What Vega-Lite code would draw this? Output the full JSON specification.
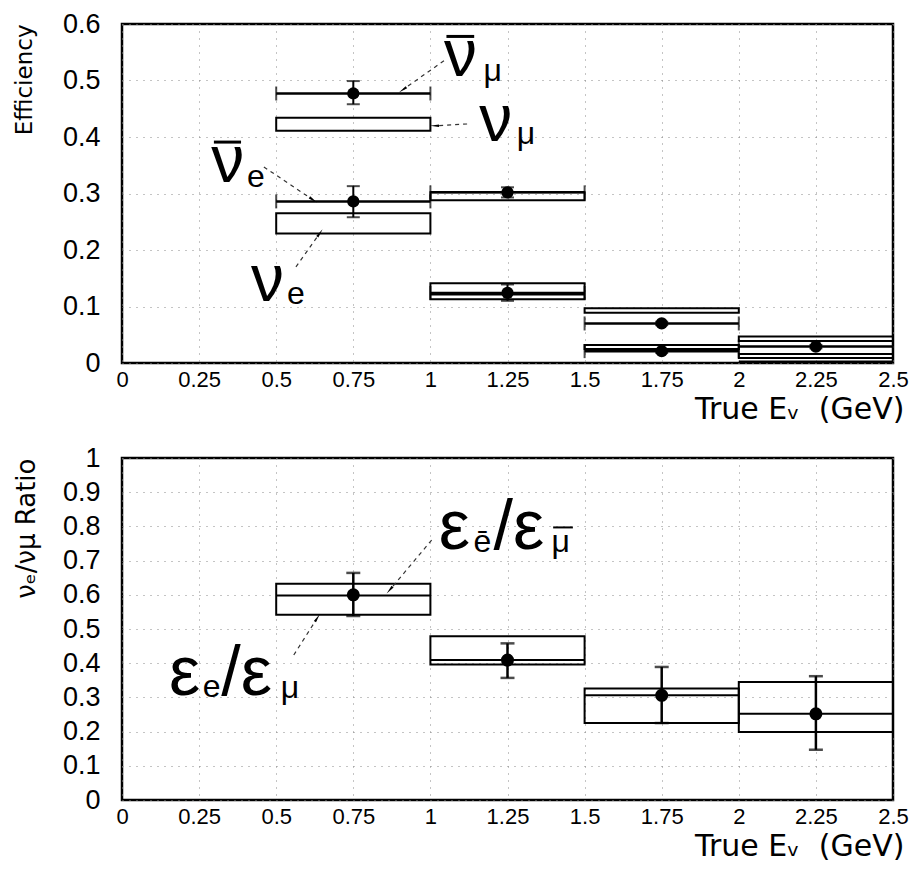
{
  "$schema": "https://vega.github.io/schema/vega-lite/v6.json",
  "background": "white",
  "padding": {"left": 12, "top": 8, "right": 4, "bottom": 4},
  "spacing": 16,
  "datasets": {
    "effBoxes": [
      {"xlo": 0.5, "xhi": 1, "ylo": 0.411, "yhi": 0.434},
      {"xlo": 0.5, "xhi": 1, "ylo": 0.229, "yhi": 0.265},
      {"xlo": 1, "xhi": 1.5, "ylo": 0.288, "yhi": 0.302},
      {"xlo": 1, "xhi": 1.5, "ylo": 0.113, "yhi": 0.141},
      {"xlo": 1.5, "xhi": 2, "ylo": 0.089, "yhi": 0.097},
      {"xlo": 1.5, "xhi": 2, "ylo": 0.025, "yhi": 0.032},
      {"xlo": 2, "xhi": 2.5, "ylo": 0.039, "yhi": 0.047},
      {"xlo": 2, "xhi": 2.5, "ylo": 0.009, "yhi": 0.016}
    ],
    "effLines": [
      {"xlo": 1, "xhi": 1.5, "y": 0.121},
      {"xlo": 2, "xhi": 2.5, "y": 0.003}
    ],
    "effPoints": [
      {"x": 0.75, "xlo": 0.5, "xhi": 1, "y": 0.477, "ylo": 0.458, "yhi": 0.499},
      {"x": 0.75, "xlo": 0.5, "xhi": 1, "y": 0.286, "ylo": 0.258, "yhi": 0.313},
      {"x": 1.25, "xlo": 1, "xhi": 1.5, "y": 0.302, "ylo": 0.293, "yhi": 0.311},
      {"x": 1.25, "xlo": 1, "xhi": 1.5, "y": 0.124, "ylo": 0.110, "yhi": 0.139},
      {"x": 1.75, "xlo": 1.5, "xhi": 2, "y": 0.070, "ylo": 0.067, "yhi": 0.073},
      {"x": 1.75, "xlo": 1.5, "xhi": 2, "y": 0.021, "ylo": 0.018, "yhi": 0.024},
      {"x": 2.25, "xlo": 2, "xhi": 2.5, "y": 0.029, "ylo": 0.026, "yhi": 0.032}
    ],
    "effArrows": [
      {"id": "a1", "x": 1.044, "y": 0.535, "x2": 0.914, "y2": 0.485},
      {"id": "a2", "x": 1.119, "y": 0.423, "x2": 1.018, "y2": 0.420},
      {"id": "a3", "x": 0.460, "y": 0.347, "x2": 0.616, "y2": 0.290},
      {"id": "a4", "x": 0.564, "y": 0.170, "x2": 0.639, "y2": 0.228}
    ],
    "effBars": [
      {"x": 1.052, "x2": 1.142, "y": 0.578},
      {"x": 0.298, "x2": 0.386, "y": 0.391}
    ],
    "effBig": [
      {"x": 1.044, "y": 0.508, "t": "ν"},
      {"x": 1.158, "y": 0.393, "t": "ν"},
      {"x": 0.289, "y": 0.320, "t": "ν"},
      {"x": 0.418, "y": 0.110, "t": "ν"}
    ],
    "effSub": [
      {"x": 1.172, "y": 0.499, "t": "μ"},
      {"x": 1.280, "y": 0.388, "t": "μ"},
      {"x": 0.405, "y": 0.312, "t": "e"},
      {"x": 0.535, "y": 0.104, "t": "e"}
    ],
    "ratioBoxes": [
      {"xlo": 0.5, "xhi": 1, "ylo": 0.542, "yhi": 0.632, "mid": 0.598},
      {"xlo": 1, "xhi": 1.5, "ylo": 0.396, "yhi": 0.479, "mid": 0.409},
      {"xlo": 1.5, "xhi": 2, "ylo": 0.225, "yhi": 0.326, "mid": 0.306},
      {"xlo": 2, "xhi": 2.5, "ylo": 0.199, "yhi": 0.345, "mid": 0.252}
    ],
    "ratioPoints": [
      {"x": 0.75, "y": 0.600, "ylo": 0.538, "yhi": 0.664},
      {"x": 1.25, "y": 0.409, "ylo": 0.357, "yhi": 0.458},
      {"x": 1.75, "y": 0.306, "ylo": 0.225, "yhi": 0.389},
      {"x": 2.25, "y": 0.252, "ylo": 0.147, "yhi": 0.362}
    ],
    "ratioArrows": [
      {"id": "a5", "x": 1.004, "y": 0.760, "x2": 0.871, "y2": 0.617},
      {"id": "a6", "x": 0.557, "y": 0.424, "x2": 0.631, "y2": 0.529}
    ],
    "ratioBars": [
      {"x": 1.398, "x2": 1.462, "y": 0.797}
    ],
    "ratioBig": [
      {"x": 1.027, "y": 0.734, "t": "ε"},
      {"x": 1.205, "y": 0.734, "t": "/ε"},
      {"x": 0.152, "y": 0.307, "t": "ε"},
      {"x": 0.322, "y": 0.307, "t": "/ε"}
    ],
    "ratioSub": [
      {"x": 1.140, "y": 0.725, "t": "ē"},
      {"x": 1.393, "y": 0.725, "t": "μ"},
      {"x": 0.262, "y": 0.301, "t": "e"},
      {"x": 0.515, "y": 0.298, "t": "μ"}
    ]
  },
  "config": {
    "view": {"stroke": "black", "strokeWidth": 2.5},
    "axis": {
      "grid": true,
      "gridDash": [1, 6],
      "gridColor": "#888",
      "gridWidth": 1,
      "ticks": false,
      "domain": false,
      "labelFont": "Liberation Sans",
      "labelColor": "black",
      "labelFlush": false,
      "labelOverlap": false,
      "titleFont": "DejaVu Sans",
      "titleFontWeight": "normal",
      "titleColor": "black"
    },
    "axisY": {"labelOverlap": false}
  },
  "vconcat": [
    {
      "width": 771,
      "height": 339,
      "layer": [
        {
          "data": {"name": "effBoxes"},
          "mark": {"type": "rect", "fill": "white", "fillOpacity": 0, "stroke": "black", "strokeWidth": 2},
          "encoding": {
            "x": {"field": "xlo", "type": "quantitative", "scale": {"domain": [0, 2.5], "nice": false},
              "axis": {"values": [0, 0.25, 0.5, 0.75, 1, 1.25, 1.5, 1.75, 2, 2.25, 2.5], "format": ".3~g", "labelFontSize": 22, "labelPadding": 6, "title": "True\u00a0Eᵥ\u00a0\u00a0(GeV)", "titleFontSize": 30, "titleAnchor": "end", "titleAlign": "right", "titleX": 782, "titleY": 55, "titleBaseline": "alphabetic"}},
            "x2": {"field": "xhi"},
            "y": {"field": "ylo", "type": "quantitative", "scale": {"domain": [0, 0.6], "nice": false},
              "axis": {"values": [0, 0.1, 0.2, 0.3, 0.4, 0.5, 0.6], "format": ".2~g", "labelFontSize": 27, "labelPadding": 22, "labelOverlap": false, "title": "Efficiency", "titleFontSize": 23, "titleAnchor": "end", "titlePadding": 26}},
            "y2": {"field": "yhi"}
          }
        },
        {
          "data": {"name": "effLines"},
          "mark": {"type": "rule", "color": "black", "strokeWidth": 1.5},
          "encoding": {
            "x": {"field": "xlo", "type": "quantitative",
              "axis": {"values": [0, 0.25, 0.5, 0.75, 1, 1.25, 1.5, 1.75, 2, 2.25, 2.5], "format": ".3~g", "labelFontSize": 22, "labelPadding": 6, "title": "True\u00a0Eᵥ\u00a0\u00a0(GeV)", "titleFontSize": 30, "titleAnchor": "end", "titleAlign": "right", "titleX": 782, "titleY": 55, "titleBaseline": "alphabetic"}},
            "x2": {"field": "xhi"},
            "y": {"field": "y", "type": "quantitative",
              "axis": {"values": [0, 0.1, 0.2, 0.3, 0.4, 0.5, 0.6], "format": ".2~g", "labelFontSize": 27, "labelPadding": 22, "labelOverlap": false, "title": "Efficiency", "titleFontSize": 23, "titleAnchor": "end", "titlePadding": 26}}
          }
        },
        {
          "data": {"name": "effPoints"},
          "mark": {"type": "rule", "color": "black", "strokeWidth": 2.5},
          "encoding": {
            "x": {"field": "xlo", "type": "quantitative",
              "axis": {"values": [0, 0.25, 0.5, 0.75, 1, 1.25, 1.5, 1.75, 2, 2.25, 2.5], "format": ".3~g", "labelFontSize": 22, "labelPadding": 6, "title": "True\u00a0Eᵥ\u00a0\u00a0(GeV)", "titleFontSize": 30, "titleAnchor": "end", "titleAlign": "right", "titleX": 782, "titleY": 55, "titleBaseline": "alphabetic"}},
            "x2": {"field": "xhi"},
            "y": {"field": "y", "type": "quantitative",
              "axis": {"values": [0, 0.1, 0.2, 0.3, 0.4, 0.5, 0.6], "format": ".2~g", "labelFontSize": 27, "labelPadding": 22, "labelOverlap": false, "title": "Efficiency", "titleFontSize": 23, "titleAnchor": "end", "titlePadding": 26}}
          }
        },
        {
          "data": {"name": "effPoints"},
          "mark": {"type": "tick", "orient": "vertical", "color": "black", "size": 14, "thickness": 2},
          "encoding": {
            "x": {"field": "xlo", "type": "quantitative",
              "axis": {"values": [0, 0.25, 0.5, 0.75, 1, 1.25, 1.5, 1.75, 2, 2.25, 2.5], "format": ".3~g", "labelFontSize": 22, "labelPadding": 6, "title": "True\u00a0Eᵥ\u00a0\u00a0(GeV)", "titleFontSize": 30, "titleAnchor": "end", "titleAlign": "right", "titleX": 782, "titleY": 55, "titleBaseline": "alphabetic"}},
            "y": {"field": "y", "type": "quantitative",
              "axis": {"values": [0, 0.1, 0.2, 0.3, 0.4, 0.5, 0.6], "format": ".2~g", "labelFontSize": 27, "labelPadding": 22, "labelOverlap": false, "title": "Efficiency", "titleFontSize": 23, "titleAnchor": "end", "titlePadding": 26}}
          }
        },
        {
          "data": {"name": "effPoints"},
          "mark": {"type": "tick", "orient": "vertical", "color": "black", "size": 14, "thickness": 2},
          "encoding": {
            "x": {"field": "xhi", "type": "quantitative",
              "axis": {"values": [0, 0.25, 0.5, 0.75, 1, 1.25, 1.5, 1.75, 2, 2.25, 2.5], "format": ".3~g", "labelFontSize": 22, "labelPadding": 6, "title": "True\u00a0Eᵥ\u00a0\u00a0(GeV)", "titleFontSize": 30, "titleAnchor": "end", "titleAlign": "right", "titleX": 782, "titleY": 55, "titleBaseline": "alphabetic"}},
            "y": {"field": "y", "type": "quantitative",
              "axis": {"values": [0, 0.1, 0.2, 0.3, 0.4, 0.5, 0.6], "format": ".2~g", "labelFontSize": 27, "labelPadding": 22, "labelOverlap": false, "title": "Efficiency", "titleFontSize": 23, "titleAnchor": "end", "titlePadding": 26}}
          }
        },
        {
          "data": {"name": "effPoints"},
          "mark": {"type": "rule", "color": "black", "strokeWidth": 2},
          "encoding": {
            "x": {"field": "x", "type": "quantitative",
              "axis": {"values": [0, 0.25, 0.5, 0.75, 1, 1.25, 1.5, 1.75, 2, 2.25, 2.5], "format": ".3~g", "labelFontSize": 22, "labelPadding": 6, "title": "True\u00a0Eᵥ\u00a0\u00a0(GeV)", "titleFontSize": 30, "titleAnchor": "end", "titleAlign": "right", "titleX": 782, "titleY": 55, "titleBaseline": "alphabetic"}},
            "y": {"field": "ylo", "type": "quantitative",
              "axis": {"values": [0, 0.1, 0.2, 0.3, 0.4, 0.5, 0.6], "format": ".2~g", "labelFontSize": 27, "labelPadding": 22, "labelOverlap": false, "title": "Efficiency", "titleFontSize": 23, "titleAnchor": "end", "titlePadding": 26}},
            "y2": {"field": "yhi"}
          }
        },
        {
          "data": {"name": "effPoints"},
          "mark": {"type": "tick", "orient": "horizontal", "color": "black", "size": 13, "thickness": 2},
          "encoding": {
            "x": {"field": "x", "type": "quantitative",
              "axis": {"values": [0, 0.25, 0.5, 0.75, 1, 1.25, 1.5, 1.75, 2, 2.25, 2.5], "format": ".3~g", "labelFontSize": 22, "labelPadding": 6, "title": "True\u00a0Eᵥ\u00a0\u00a0(GeV)", "titleFontSize": 30, "titleAnchor": "end", "titleAlign": "right", "titleX": 782, "titleY": 55, "titleBaseline": "alphabetic"}},
            "y": {"field": "ylo", "type": "quantitative",
              "axis": {"values": [0, 0.1, 0.2, 0.3, 0.4, 0.5, 0.6], "format": ".2~g", "labelFontSize": 27, "labelPadding": 22, "labelOverlap": false, "title": "Efficiency", "titleFontSize": 23, "titleAnchor": "end", "titlePadding": 26}}
          }
        },
        {
          "data": {"name": "effPoints"},
          "mark": {"type": "tick", "orient": "horizontal", "color": "black", "size": 13, "thickness": 2},
          "encoding": {
            "x": {"field": "x", "type": "quantitative",
              "axis": {"values": [0, 0.25, 0.5, 0.75, 1, 1.25, 1.5, 1.75, 2, 2.25, 2.5], "format": ".3~g", "labelFontSize": 22, "labelPadding": 6, "title": "True\u00a0Eᵥ\u00a0\u00a0(GeV)", "titleFontSize": 30, "titleAnchor": "end", "titleAlign": "right", "titleX": 782, "titleY": 55, "titleBaseline": "alphabetic"}},
            "y": {"field": "yhi", "type": "quantitative",
              "axis": {"values": [0, 0.1, 0.2, 0.3, 0.4, 0.5, 0.6], "format": ".2~g", "labelFontSize": 27, "labelPadding": 22, "labelOverlap": false, "title": "Efficiency", "titleFontSize": 23, "titleAnchor": "end", "titlePadding": 26}}
          }
        },
        {
          "data": {"name": "effPoints"},
          "mark": {"type": "point", "filled": true, "color": "black", "opacity": 1, "size": 150},
          "encoding": {
            "x": {"field": "x", "type": "quantitative",
              "axis": {"values": [0, 0.25, 0.5, 0.75, 1, 1.25, 1.5, 1.75, 2, 2.25, 2.5], "format": ".3~g", "labelFontSize": 22, "labelPadding": 6, "title": "True\u00a0Eᵥ\u00a0\u00a0(GeV)", "titleFontSize": 30, "titleAnchor": "end", "titleAlign": "right", "titleX": 782, "titleY": 55, "titleBaseline": "alphabetic"}},
            "y": {"field": "y", "type": "quantitative",
              "axis": {"values": [0, 0.1, 0.2, 0.3, 0.4, 0.5, 0.6], "format": ".2~g", "labelFontSize": 27, "labelPadding": 22, "labelOverlap": false, "title": "Efficiency", "titleFontSize": 23, "titleAnchor": "end", "titlePadding": 26}}
          }
        },
        {
          "data": {"name": "effArrows"},
          "mark": {"type": "rule", "color": "#333", "strokeWidth": 1.2, "strokeDash": [4, 4]},
          "encoding": {
            "x": {"field": "x", "type": "quantitative",
              "axis": {"values": [0, 0.25, 0.5, 0.75, 1, 1.25, 1.5, 1.75, 2, 2.25, 2.5], "format": ".3~g", "labelFontSize": 22, "labelPadding": 6, "title": "True\u00a0Eᵥ\u00a0\u00a0(GeV)", "titleFontSize": 30, "titleAnchor": "end", "titleAlign": "right", "titleX": 782, "titleY": 55, "titleBaseline": "alphabetic"}},
            "y": {"field": "y", "type": "quantitative",
              "axis": {"values": [0, 0.1, 0.2, 0.3, 0.4, 0.5, 0.6], "format": ".2~g", "labelFontSize": 27, "labelPadding": 22, "labelOverlap": false, "title": "Efficiency", "titleFontSize": 23, "titleAnchor": "end", "titlePadding": 26}},
            "x2": {"field": "x2"},
            "y2": {"field": "y2"}
          }
        },
        {
          "data": {"name": "effArrows"},
          "transform": [{"filter": "datum.id == 'a1'"}],
          "mark": {"type": "point", "shape": "wedge", "filled": true, "color": "black", "opacity": 1, "size": 110, "angle": 235},
          "encoding": {
            "x": {"field": "x2", "type": "quantitative",
              "axis": {"values": [0, 0.25, 0.5, 0.75, 1, 1.25, 1.5, 1.75, 2, 2.25, 2.5], "format": ".3~g", "labelFontSize": 22, "labelPadding": 6, "title": "True\u00a0Eᵥ\u00a0\u00a0(GeV)", "titleFontSize": 30, "titleAnchor": "end", "titleAlign": "right", "titleX": 782, "titleY": 55, "titleBaseline": "alphabetic"}},
            "y": {"field": "y2", "type": "quantitative",
              "axis": {"values": [0, 0.1, 0.2, 0.3, 0.4, 0.5, 0.6], "format": ".2~g", "labelFontSize": 27, "labelPadding": 22, "labelOverlap": false, "title": "Efficiency", "titleFontSize": 23, "titleAnchor": "end", "titlePadding": 26}}
          }
        },
        {
          "data": {"name": "effArrows"},
          "transform": [{"filter": "datum.id == 'a2'"}],
          "mark": {"type": "point", "shape": "wedge", "filled": true, "color": "black", "opacity": 1, "size": 110, "angle": 270},
          "encoding": {
            "x": {"field": "x2", "type": "quantitative",
              "axis": {"values": [0, 0.25, 0.5, 0.75, 1, 1.25, 1.5, 1.75, 2, 2.25, 2.5], "format": ".3~g", "labelFontSize": 22, "labelPadding": 6, "title": "True\u00a0Eᵥ\u00a0\u00a0(GeV)", "titleFontSize": 30, "titleAnchor": "end", "titleAlign": "right", "titleX": 782, "titleY": 55, "titleBaseline": "alphabetic"}},
            "y": {"field": "y2", "type": "quantitative",
              "axis": {"values": [0, 0.1, 0.2, 0.3, 0.4, 0.5, 0.6], "format": ".2~g", "labelFontSize": 27, "labelPadding": 22, "labelOverlap": false, "title": "Efficiency", "titleFontSize": 23, "titleAnchor": "end", "titlePadding": 26}}
          }
        },
        {
          "data": {"name": "effArrows"},
          "transform": [{"filter": "datum.id == 'a3'"}],
          "mark": {"type": "point", "shape": "wedge", "filled": true, "color": "black", "opacity": 1, "size": 110, "angle": 124},
          "encoding": {
            "x": {"field": "x2", "type": "quantitative",
              "axis": {"values": [0, 0.25, 0.5, 0.75, 1, 1.25, 1.5, 1.75, 2, 2.25, 2.5], "format": ".3~g", "labelFontSize": 22, "labelPadding": 6, "title": "True\u00a0Eᵥ\u00a0\u00a0(GeV)", "titleFontSize": 30, "titleAnchor": "end", "titleAlign": "right", "titleX": 782, "titleY": 55, "titleBaseline": "alphabetic"}},
            "y": {"field": "y2", "type": "quantitative",
              "axis": {"values": [0, 0.1, 0.2, 0.3, 0.4, 0.5, 0.6], "format": ".2~g", "labelFontSize": 27, "labelPadding": 22, "labelOverlap": false, "title": "Efficiency", "titleFontSize": 23, "titleAnchor": "end", "titlePadding": 26}}
          }
        },
        {
          "data": {"name": "effArrows"},
          "transform": [{"filter": "datum.id == 'a4'"}],
          "mark": {"type": "point", "shape": "wedge", "filled": true, "color": "black", "opacity": 1, "size": 110, "angle": 35},
          "encoding": {
            "x": {"field": "x2", "type": "quantitative",
              "axis": {"values": [0, 0.25, 0.5, 0.75, 1, 1.25, 1.5, 1.75, 2, 2.25, 2.5], "format": ".3~g", "labelFontSize": 22, "labelPadding": 6, "title": "True\u00a0Eᵥ\u00a0\u00a0(GeV)", "titleFontSize": 30, "titleAnchor": "end", "titleAlign": "right", "titleX": 782, "titleY": 55, "titleBaseline": "alphabetic"}},
            "y": {"field": "y2", "type": "quantitative",
              "axis": {"values": [0, 0.1, 0.2, 0.3, 0.4, 0.5, 0.6], "format": ".2~g", "labelFontSize": 27, "labelPadding": 22, "labelOverlap": false, "title": "Efficiency", "titleFontSize": 23, "titleAnchor": "end", "titlePadding": 26}}
          }
        },
        {
          "data": {"name": "effBars"},
          "mark": {"type": "rule", "color": "black", "strokeWidth": 3},
          "encoding": {
            "x": {"field": "x", "type": "quantitative",
              "axis": {"values": [0, 0.25, 0.5, 0.75, 1, 1.25, 1.5, 1.75, 2, 2.25, 2.5], "format": ".3~g", "labelFontSize": 22, "labelPadding": 6, "title": "True\u00a0Eᵥ\u00a0\u00a0(GeV)", "titleFontSize": 30, "titleAnchor": "end", "titleAlign": "right", "titleX": 782, "titleY": 55, "titleBaseline": "alphabetic"}},
            "x2": {"field": "x2"},
            "y": {"field": "y", "type": "quantitative",
              "axis": {"values": [0, 0.1, 0.2, 0.3, 0.4, 0.5, 0.6], "format": ".2~g", "labelFontSize": 27, "labelPadding": 22, "labelOverlap": false, "title": "Efficiency", "titleFontSize": 23, "titleAnchor": "end", "titlePadding": 26}}
          }
        },
        {
          "data": {"name": "effBig"},
          "mark": {"type": "text", "font": "Liberation Sans", "fontSize": 66, "align": "left", "baseline": "alphabetic", "color": "black"},
          "encoding": {
            "x": {"field": "x", "type": "quantitative",
              "axis": {"values": [0, 0.25, 0.5, 0.75, 1, 1.25, 1.5, 1.75, 2, 2.25, 2.5], "format": ".3~g", "labelFontSize": 22, "labelPadding": 6, "title": "True\u00a0Eᵥ\u00a0\u00a0(GeV)", "titleFontSize": 30, "titleAnchor": "end", "titleAlign": "right", "titleX": 782, "titleY": 55, "titleBaseline": "alphabetic"}},
            "y": {"field": "y", "type": "quantitative",
              "axis": {"values": [0, 0.1, 0.2, 0.3, 0.4, 0.5, 0.6], "format": ".2~g", "labelFontSize": 27, "labelPadding": 22, "labelOverlap": false, "title": "Efficiency", "titleFontSize": 23, "titleAnchor": "end", "titlePadding": 26}},
            "text": {"field": "t"}
          }
        },
        {
          "data": {"name": "effSub"},
          "mark": {"type": "text", "font": "Liberation Sans", "fontSize": 32, "align": "left", "baseline": "alphabetic", "color": "black"},
          "encoding": {
            "x": {"field": "x", "type": "quantitative",
              "axis": {"values": [0, 0.25, 0.5, 0.75, 1, 1.25, 1.5, 1.75, 2, 2.25, 2.5], "format": ".3~g", "labelFontSize": 22, "labelPadding": 6, "title": "True\u00a0Eᵥ\u00a0\u00a0(GeV)", "titleFontSize": 30, "titleAnchor": "end", "titleAlign": "right", "titleX": 782, "titleY": 55, "titleBaseline": "alphabetic"}},
            "y": {"field": "y", "type": "quantitative",
              "axis": {"values": [0, 0.1, 0.2, 0.3, 0.4, 0.5, 0.6], "format": ".2~g", "labelFontSize": 27, "labelPadding": 22, "labelOverlap": false, "title": "Efficiency", "titleFontSize": 23, "titleAnchor": "end", "titlePadding": 26}},
            "text": {"field": "t"}
          }
        }
      ]
    },
    {
      "width": 771,
      "height": 342,
      "layer": [
        {
          "data": {"name": "ratioBoxes"},
          "mark": {"type": "rect", "fill": "white", "fillOpacity": 0, "stroke": "black", "strokeWidth": 2},
          "encoding": {
            "x": {"field": "xlo", "type": "quantitative", "scale": {"domain": [0, 2.5], "nice": false},
              "axis": {"values": [0, 0.25, 0.5, 0.75, 1, 1.25, 1.5, 1.75, 2, 2.25, 2.5], "format": ".3~g", "labelFontSize": 22, "labelPadding": 6, "title": "True\u00a0Eᵥ\u00a0\u00a0(GeV)", "titleFontSize": 30, "titleAnchor": "end", "titleAlign": "right", "titleX": 782, "titleY": 55, "titleBaseline": "alphabetic"}},
            "x2": {"field": "xhi"},
            "y": {"field": "ylo", "type": "quantitative", "scale": {"domain": [0, 1], "nice": false},
              "axis": {"values": [0, 0.1, 0.2, 0.3, 0.4, 0.5, 0.6, 0.7, 0.8, 0.9, 1], "format": ".2~g", "labelFontSize": 27, "labelPadding": 22, "labelOverlap": false, "title": "νₑ/νμ Ratio", "titleFontSize": 26, "titleAnchor": "end", "titlePadding": 23}},
            "y2": {"field": "yhi"}
          }
        },
        {
          "data": {"name": "ratioBoxes"},
          "mark": {"type": "rule", "color": "black", "strokeWidth": 2},
          "encoding": {
            "x": {"field": "xlo", "type": "quantitative",
              "axis": {"values": [0, 0.25, 0.5, 0.75, 1, 1.25, 1.5, 1.75, 2, 2.25, 2.5], "format": ".3~g", "labelFontSize": 22, "labelPadding": 6, "title": "True\u00a0Eᵥ\u00a0\u00a0(GeV)", "titleFontSize": 30, "titleAnchor": "end", "titleAlign": "right", "titleX": 782, "titleY": 55, "titleBaseline": "alphabetic"}},
            "x2": {"field": "xhi"},
            "y": {"field": "mid", "type": "quantitative",
              "axis": {"values": [0, 0.1, 0.2, 0.3, 0.4, 0.5, 0.6, 0.7, 0.8, 0.9, 1], "format": ".2~g", "labelFontSize": 27, "labelPadding": 22, "labelOverlap": false, "title": "νₑ/νμ Ratio", "titleFontSize": 26, "titleAnchor": "end", "titlePadding": 23}}
          }
        },
        {
          "data": {"name": "ratioPoints"},
          "mark": {"type": "rule", "color": "black", "strokeWidth": 2.5},
          "encoding": {
            "x": {"field": "x", "type": "quantitative",
              "axis": {"values": [0, 0.25, 0.5, 0.75, 1, 1.25, 1.5, 1.75, 2, 2.25, 2.5], "format": ".3~g", "labelFontSize": 22, "labelPadding": 6, "title": "True\u00a0Eᵥ\u00a0\u00a0(GeV)", "titleFontSize": 30, "titleAnchor": "end", "titleAlign": "right", "titleX": 782, "titleY": 55, "titleBaseline": "alphabetic"}},
            "y": {"field": "ylo", "type": "quantitative",
              "axis": {"values": [0, 0.1, 0.2, 0.3, 0.4, 0.5, 0.6, 0.7, 0.8, 0.9, 1], "format": ".2~g", "labelFontSize": 27, "labelPadding": 22, "labelOverlap": false, "title": "νₑ/νμ Ratio", "titleFontSize": 26, "titleAnchor": "end", "titlePadding": 23}},
            "y2": {"field": "yhi"}
          }
        },
        {
          "data": {"name": "ratioPoints"},
          "mark": {"type": "tick", "orient": "horizontal", "color": "black", "size": 14, "thickness": 2.5},
          "encoding": {
            "x": {"field": "x", "type": "quantitative",
              "axis": {"values": [0, 0.25, 0.5, 0.75, 1, 1.25, 1.5, 1.75, 2, 2.25, 2.5], "format": ".3~g", "labelFontSize": 22, "labelPadding": 6, "title": "True\u00a0Eᵥ\u00a0\u00a0(GeV)", "titleFontSize": 30, "titleAnchor": "end", "titleAlign": "right", "titleX": 782, "titleY": 55, "titleBaseline": "alphabetic"}},
            "y": {"field": "ylo", "type": "quantitative",
              "axis": {"values": [0, 0.1, 0.2, 0.3, 0.4, 0.5, 0.6, 0.7, 0.8, 0.9, 1], "format": ".2~g", "labelFontSize": 27, "labelPadding": 22, "labelOverlap": false, "title": "νₑ/νμ Ratio", "titleFontSize": 26, "titleAnchor": "end", "titlePadding": 23}}
          }
        },
        {
          "data": {"name": "ratioPoints"},
          "mark": {"type": "tick", "orient": "horizontal", "color": "black", "size": 14, "thickness": 2.5},
          "encoding": {
            "x": {"field": "x", "type": "quantitative",
              "axis": {"values": [0, 0.25, 0.5, 0.75, 1, 1.25, 1.5, 1.75, 2, 2.25, 2.5], "format": ".3~g", "labelFontSize": 22, "labelPadding": 6, "title": "True\u00a0Eᵥ\u00a0\u00a0(GeV)", "titleFontSize": 30, "titleAnchor": "end", "titleAlign": "right", "titleX": 782, "titleY": 55, "titleBaseline": "alphabetic"}},
            "y": {"field": "yhi", "type": "quantitative",
              "axis": {"values": [0, 0.1, 0.2, 0.3, 0.4, 0.5, 0.6, 0.7, 0.8, 0.9, 1], "format": ".2~g", "labelFontSize": 27, "labelPadding": 22, "labelOverlap": false, "title": "νₑ/νμ Ratio", "titleFontSize": 26, "titleAnchor": "end", "titlePadding": 23}}
          }
        },
        {
          "data": {"name": "ratioPoints"},
          "mark": {"type": "point", "filled": true, "color": "black", "opacity": 1, "size": 170},
          "encoding": {
            "x": {"field": "x", "type": "quantitative",
              "axis": {"values": [0, 0.25, 0.5, 0.75, 1, 1.25, 1.5, 1.75, 2, 2.25, 2.5], "format": ".3~g", "labelFontSize": 22, "labelPadding": 6, "title": "True\u00a0Eᵥ\u00a0\u00a0(GeV)", "titleFontSize": 30, "titleAnchor": "end", "titleAlign": "right", "titleX": 782, "titleY": 55, "titleBaseline": "alphabetic"}},
            "y": {"field": "y", "type": "quantitative",
              "axis": {"values": [0, 0.1, 0.2, 0.3, 0.4, 0.5, 0.6, 0.7, 0.8, 0.9, 1], "format": ".2~g", "labelFontSize": 27, "labelPadding": 22, "labelOverlap": false, "title": "νₑ/νμ Ratio", "titleFontSize": 26, "titleAnchor": "end", "titlePadding": 23}}
          }
        },
        {
          "data": {"name": "ratioArrows"},
          "mark": {"type": "rule", "color": "#333", "strokeWidth": 1.2, "strokeDash": [4, 4]},
          "encoding": {
            "x": {"field": "x", "type": "quantitative",
              "axis": {"values": [0, 0.25, 0.5, 0.75, 1, 1.25, 1.5, 1.75, 2, 2.25, 2.5], "format": ".3~g", "labelFontSize": 22, "labelPadding": 6, "title": "True\u00a0Eᵥ\u00a0\u00a0(GeV)", "titleFontSize": 30, "titleAnchor": "end", "titleAlign": "right", "titleX": 782, "titleY": 55, "titleBaseline": "alphabetic"}},
            "y": {"field": "y", "type": "quantitative",
              "axis": {"values": [0, 0.1, 0.2, 0.3, 0.4, 0.5, 0.6, 0.7, 0.8, 0.9, 1], "format": ".2~g", "labelFontSize": 27, "labelPadding": 22, "labelOverlap": false, "title": "νₑ/νμ Ratio", "titleFontSize": 26, "titleAnchor": "end", "titlePadding": 23}},
            "x2": {"field": "x2"},
            "y2": {"field": "y2"}
          }
        },
        {
          "data": {"name": "ratioArrows"},
          "transform": [{"filter": "datum.id == 'a5'"}],
          "mark": {"type": "point", "shape": "wedge", "filled": true, "color": "black", "opacity": 1, "size": 110, "angle": 220},
          "encoding": {
            "x": {"field": "x2", "type": "quantitative",
              "axis": {"values": [0, 0.25, 0.5, 0.75, 1, 1.25, 1.5, 1.75, 2, 2.25, 2.5], "format": ".3~g", "labelFontSize": 22, "labelPadding": 6, "title": "True\u00a0Eᵥ\u00a0\u00a0(GeV)", "titleFontSize": 30, "titleAnchor": "end", "titleAlign": "right", "titleX": 782, "titleY": 55, "titleBaseline": "alphabetic"}},
            "y": {"field": "y2", "type": "quantitative",
              "axis": {"values": [0, 0.1, 0.2, 0.3, 0.4, 0.5, 0.6, 0.7, 0.8, 0.9, 1], "format": ".2~g", "labelFontSize": 27, "labelPadding": 22, "labelOverlap": false, "title": "νₑ/νμ Ratio", "titleFontSize": 26, "titleAnchor": "end", "titlePadding": 23}}
          }
        },
        {
          "data": {"name": "ratioArrows"},
          "transform": [{"filter": "datum.id == 'a6'"}],
          "mark": {"type": "point", "shape": "wedge", "filled": true, "color": "black", "opacity": 1, "size": 110, "angle": 33},
          "encoding": {
            "x": {"field": "x2", "type": "quantitative",
              "axis": {"values": [0, 0.25, 0.5, 0.75, 1, 1.25, 1.5, 1.75, 2, 2.25, 2.5], "format": ".3~g", "labelFontSize": 22, "labelPadding": 6, "title": "True\u00a0Eᵥ\u00a0\u00a0(GeV)", "titleFontSize": 30, "titleAnchor": "end", "titleAlign": "right", "titleX": 782, "titleY": 55, "titleBaseline": "alphabetic"}},
            "y": {"field": "y2", "type": "quantitative",
              "axis": {"values": [0, 0.1, 0.2, 0.3, 0.4, 0.5, 0.6, 0.7, 0.8, 0.9, 1], "format": ".2~g", "labelFontSize": 27, "labelPadding": 22, "labelOverlap": false, "title": "νₑ/νμ Ratio", "titleFontSize": 26, "titleAnchor": "end", "titlePadding": 23}}
          }
        },
        {
          "data": {"name": "ratioBars"},
          "mark": {"type": "rule", "color": "black", "strokeWidth": 2},
          "encoding": {
            "x": {"field": "x", "type": "quantitative",
              "axis": {"values": [0, 0.25, 0.5, 0.75, 1, 1.25, 1.5, 1.75, 2, 2.25, 2.5], "format": ".3~g", "labelFontSize": 22, "labelPadding": 6, "title": "True\u00a0Eᵥ\u00a0\u00a0(GeV)", "titleFontSize": 30, "titleAnchor": "end", "titleAlign": "right", "titleX": 782, "titleY": 55, "titleBaseline": "alphabetic"}},
            "x2": {"field": "x2"},
            "y": {"field": "y", "type": "quantitative",
              "axis": {"values": [0, 0.1, 0.2, 0.3, 0.4, 0.5, 0.6, 0.7, 0.8, 0.9, 1], "format": ".2~g", "labelFontSize": 27, "labelPadding": 22, "labelOverlap": false, "title": "νₑ/νμ Ratio", "titleFontSize": 26, "titleAnchor": "end", "titlePadding": 23}}
          }
        },
        {
          "data": {"name": "ratioBig"},
          "mark": {"type": "text", "font": "Liberation Sans", "fontSize": 70, "align": "left", "baseline": "alphabetic", "color": "black"},
          "encoding": {
            "x": {"field": "x", "type": "quantitative",
              "axis": {"values": [0, 0.25, 0.5, 0.75, 1, 1.25, 1.5, 1.75, 2, 2.25, 2.5], "format": ".3~g", "labelFontSize": 22, "labelPadding": 6, "title": "True\u00a0Eᵥ\u00a0\u00a0(GeV)", "titleFontSize": 30, "titleAnchor": "end", "titleAlign": "right", "titleX": 782, "titleY": 55, "titleBaseline": "alphabetic"}},
            "y": {"field": "y", "type": "quantitative",
              "axis": {"values": [0, 0.1, 0.2, 0.3, 0.4, 0.5, 0.6, 0.7, 0.8, 0.9, 1], "format": ".2~g", "labelFontSize": 27, "labelPadding": 22, "labelOverlap": false, "title": "νₑ/νμ Ratio", "titleFontSize": 26, "titleAnchor": "end", "titlePadding": 23}},
            "text": {"field": "t"}
          }
        },
        {
          "data": {"name": "ratioSub"},
          "mark": {"type": "text", "font": "Liberation Sans", "fontSize": 32, "align": "left", "baseline": "alphabetic", "color": "black"},
          "encoding": {
            "x": {"field": "x", "type": "quantitative",
              "axis": {"values": [0, 0.25, 0.5, 0.75, 1, 1.25, 1.5, 1.75, 2, 2.25, 2.5], "format": ".3~g", "labelFontSize": 22, "labelPadding": 6, "title": "True\u00a0Eᵥ\u00a0\u00a0(GeV)", "titleFontSize": 30, "titleAnchor": "end", "titleAlign": "right", "titleX": 782, "titleY": 55, "titleBaseline": "alphabetic"}},
            "y": {"field": "y", "type": "quantitative",
              "axis": {"values": [0, 0.1, 0.2, 0.3, 0.4, 0.5, 0.6, 0.7, 0.8, 0.9, 1], "format": ".2~g", "labelFontSize": 27, "labelPadding": 22, "labelOverlap": false, "title": "νₑ/νμ Ratio", "titleFontSize": 26, "titleAnchor": "end", "titlePadding": 23}},
            "text": {"field": "t"}
          }
        }
      ]
    }
  ]
}
